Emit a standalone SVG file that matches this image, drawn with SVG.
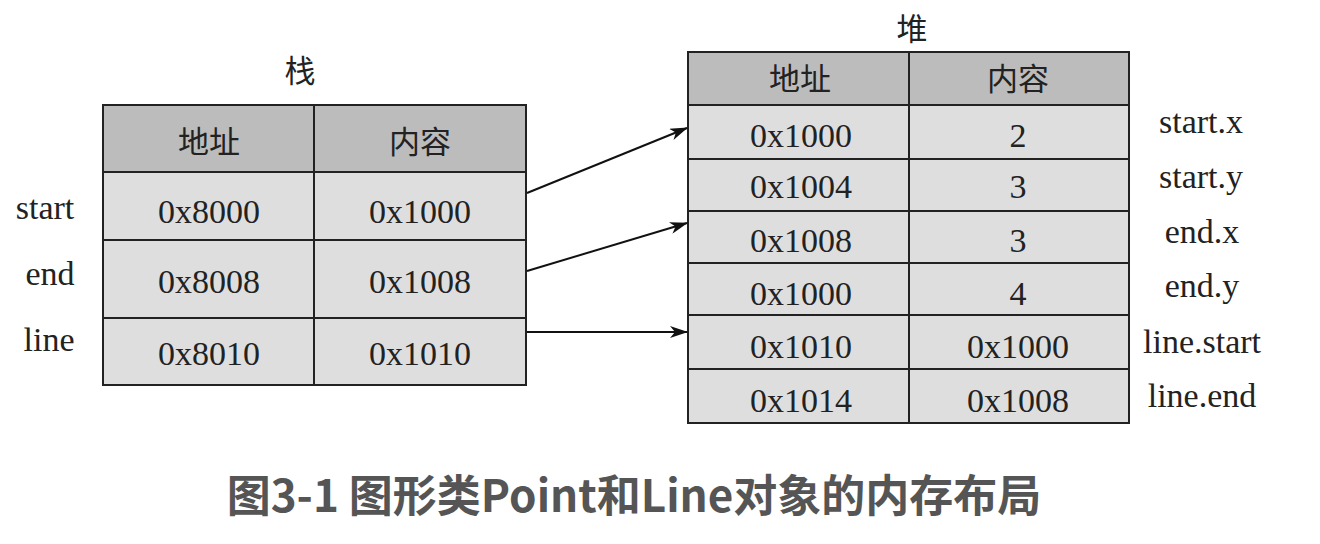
<svg xmlns="http://www.w3.org/2000/svg" width="1320" height="544" viewBox="0 0 1320 544">
<style>
.hd{fill:#bcbcbc;stroke:#222;stroke-width:2}
.cell{fill:#dedede;stroke:#222;stroke-width:2}
.t{font-family:"Liberation Serif","Noto Sans CJK SC",serif;font-size:34px;fill:#222;text-anchor:middle}
.h{font-family:"Liberation Serif","Noto Sans CJK SC",serif;font-size:31px;fill:#222;text-anchor:middle}
.cap{font-family:"Noto Sans CJK SC","Noto Sans",sans-serif;font-size:44px;font-weight:bold;fill:#555;text-anchor:middle}
.conn{stroke:#111;stroke-width:2;fill:none;marker-end:url(#ah)}
</style>
<defs>
<marker id="ah" markerWidth="18" markerHeight="12" refX="17" refY="6" orient="auto" markerUnits="userSpaceOnUse">
<path d="M0,0 L18,6 L0,12 L5,6 Z" fill="#111"/>
</marker>
</defs>
<rect width="1320" height="544" fill="#fff"/>
<g id="stack">
<text class="h" x="300" y="82">栈</text>
<rect class="hd" x="103" y="105" width="211" height="67"/>
<rect class="hd" x="314" y="105" width="212" height="67"/>
<rect class="cell" x="103" y="172" width="211" height="68"/>
<rect class="cell" x="314" y="172" width="212" height="68"/>
<rect class="cell" x="103" y="240" width="211" height="78"/>
<rect class="cell" x="314" y="240" width="212" height="78"/>
<rect class="cell" x="103" y="318" width="211" height="67"/>
<rect class="cell" x="314" y="318" width="212" height="67"/>
<text class="h" x="209" y="153">地址</text>
<text class="h" x="420" y="153">内容</text>
<text class="t" x="209" y="223">0x8000</text>
<text class="t" x="420" y="223">0x1000</text>
<text class="t" x="209" y="293">0x8008</text>
<text class="t" x="420" y="293">0x1008</text>
<text class="t" x="209" y="365">0x8010</text>
<text class="t" x="420" y="365">0x1010</text>
<text class="t" x="45" y="219">start</text>
<text class="t" x="50" y="285">end</text>
<text class="t" x="49" y="351">line</text>
</g>
<g id="heap">
<text class="h" x="912" y="40">堆</text>
<rect class="hd" x="688" y="52" width="221" height="53"/>
<rect class="hd" x="909" y="52" width="220" height="53"/>
<rect class="cell" x="688" y="105" width="221" height="54"/>
<rect class="cell" x="909" y="105" width="220" height="54"/>
<rect class="cell" x="688" y="159" width="221" height="52"/>
<rect class="cell" x="909" y="159" width="220" height="52"/>
<rect class="cell" x="688" y="211" width="221" height="52"/>
<rect class="cell" x="909" y="211" width="220" height="52"/>
<rect class="cell" x="688" y="263" width="221" height="52"/>
<rect class="cell" x="909" y="263" width="220" height="52"/>
<rect class="cell" x="688" y="315" width="221" height="54"/>
<rect class="cell" x="909" y="315" width="220" height="54"/>
<rect class="cell" x="688" y="369" width="221" height="54"/>
<rect class="cell" x="909" y="369" width="220" height="54"/>
<text class="h" x="800" y="90">地址</text>
<text class="h" x="1018" y="90">内容</text>
<text class="t" x="801" y="147">0x1000</text>
<text class="t" x="1018" y="147">2</text>
<text class="t" x="801" y="198">0x1004</text>
<text class="t" x="1018" y="198">3</text>
<text class="t" x="801" y="252">0x1008</text>
<text class="t" x="1018" y="252">3</text>
<text class="t" x="801" y="305">0x1000</text>
<text class="t" x="1018" y="305">4</text>
<text class="t" x="801" y="358">0x1010</text>
<text class="t" x="1018" y="358">0x1000</text>
<text class="t" x="801" y="412">0x1014</text>
<text class="t" x="1018" y="412">0x1008</text>
<text class="t" x="1201" y="133">start.x</text>
<text class="t" x="1201" y="188">start.y</text>
<text class="t" x="1202" y="243">end.x</text>
<text class="t" x="1202" y="297">end.y</text>
<text class="t" x="1202" y="353">line.start</text>
<text class="t" x="1202" y="407">line.end</text>
</g>
<g id="connectors">
<line class="conn" x1="527" y1="193" x2="687" y2="128"/>
<line class="conn" x1="527" y1="271" x2="687" y2="223"/>
<line class="conn" x1="527" y1="332" x2="687" y2="332"/>
</g>
<text class="cap" x="634" y="512">图3-1 图形类Point和Line对象的内存布局</text>
</svg>
